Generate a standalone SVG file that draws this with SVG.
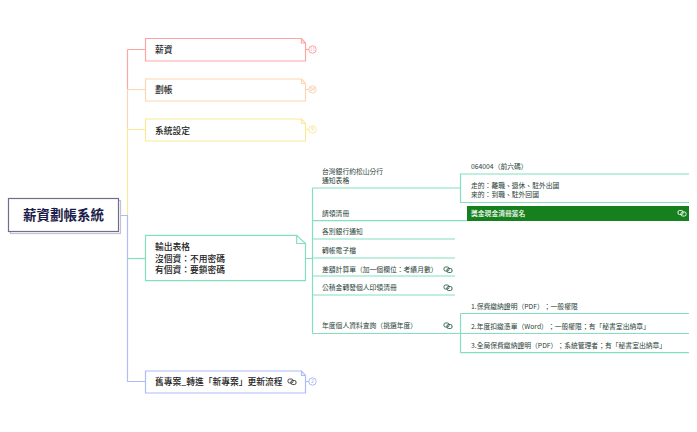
<svg xmlns="http://www.w3.org/2000/svg" width="697" height="432" viewBox="0 0 697 432">
<style>
text{font-family:"Noto Sans CJK TC","Noto Sans",sans-serif;fill:#222;text-spacing-trim:space-all}
.n{font-size:8.75px;font-weight:500}
.s{font-size:6.8px;fill:#2a3f38}
.c{fill:none;stroke-width:1.2}
.b{fill:#fff;stroke-width:1.2}
.g{stroke:#84dfc0}
.ic{fill:none;stroke-width:.9}
.cn{font-size:4.5px;text-anchor:middle}
</style>
<defs>
<g id="lnk" class="ic"><rect x="0" y="0" width="5" height="4" rx="1.5"/><rect x="3" y="1.500" width="5" height="4" rx="1.500"/></g>
</defs>
<rect width="697" height="432" fill="#fff"/>
<g id="connectors">
<path class="c" stroke="#fba5a5" d="M127.500 49.500V89.500M127.500 49.500H145.500"/>
<path class="c" stroke="#fbd5b4" d="M127.500 89.500V129.500M127.500 89.500H145.500"/>
<path class="c" stroke="#fbe99a" d="M127.500 129.500V215.500M127.500 129.500H145.500"/>
<path class="c" stroke="#aebcf8" d="M118.500 215.500H127.500V381.500H145.500"/>
<path class="c g" d="M127.500 258.500H145.500"/>
<path class="c g" d="M305.500 258.500H312.500M312.500 188V333.500M312.500 188H460.500M312.500 220.700H467M312.500 239H455M312.500 258H455M312.500 276H455M312.500 295H455M312.500 333.500H460.500"/>
<path class="c g" d="M689 174H460.500V202.500H689M460.500 313.500V352.700M689 313.500H460.500M689 333.500H460.500M689 352.700H460.500"/>
<path class="c" stroke="#fba5a5" d="M305.500 49.500H309"/>
<path class="c" stroke="#fbd5b4" d="M305.500 89.500H309"/>
<path class="c" stroke="#fbe99a" d="M305.500 129.500H309"/>
<path class="c" stroke="#aebcf8" d="M305.500 381.500H309"/>
</g>
<g id="root">
<rect x="10.500" y="200.500" width="110" height="33" fill="#fff" stroke="#c2c2d6" stroke-width="1.2"/>
<rect x="8.500" y="198.500" width="110" height="33" fill="#fff" stroke="#6f6f8c" stroke-width="1.2"/>
<text x="63.500" y="220" text-anchor="middle" font-size="13.500" font-weight="700" style="fill:#1c1c4a">薪資劃帳系統</text>
</g>
<g id="n1">
<path class="b" stroke="#fba5a5" d="M145.500 38.500H301.500L305.500 43V61H145.500Z M301.500 38.500V43H305.500"/>
<text class="n" x="155" y="53">薪資</text>
<circle cx="312.500" cy="49.500" r="3.700" fill="#fff" stroke="#fba5a5"/>
<text class="cn" x="312.500" y="51.200" style="fill:#f8a8a8">11</text>
</g>
<g id="n2">
<path class="b" stroke="#fbd5b4" d="M145.500 79H301.500L305.500 83.500V101H145.500Z M301.500 79V83.500H305.500"/>
<text class="n" x="155" y="93">劃帳</text>
<circle cx="312.500" cy="89.500" r="3.700" fill="#fff" stroke="#fbd5b4"/>
<text class="cn" x="312.500" y="91.200" style="fill:#f5b888">04</text>
</g>
<g id="n3">
<path class="b" stroke="#fbe99a" d="M145.500 119H301.500L305.500 123.500V141H145.500Z M301.500 119V123.500H305.500"/>
<text class="n" x="155" y="133.500">系統設定</text>
<circle cx="312.500" cy="129.500" r="3.700" fill="#fff" stroke="#fbe99a"/>
<text class="cn" x="312.500" y="131.200" style="fill:#e8d060">9</text>
</g>
<g id="n4">
<path class="b g" d="M145.500 235.300H296.700L305.500 243.500V280.700H145.500Z M296.700 235.300V243.500H305.500"/>
<text class="n" x="155" y="249.500">輸出表格</text>
<text class="n" x="155" y="261.500">沒個資：不用密碼</text>
<text class="n" x="155" y="273">有個資：要鎖密碼</text>
</g>
<g id="n5">
<path class="b" stroke="#aebcf8" d="M145.500 371H301.500L305.500 375.500V393H145.500Z M301.500 371V375.500H305.500"/>
<text class="n" x="155" y="385">舊專案_轉進「新專案」更新流程</text>
<use href="#lnk" x="288" y="379" stroke="#333"/>
<circle cx="312.500" cy="381.500" r="3.700" fill="#fff" stroke="#aebcf8"/>
<text class="cn" x="312.500" y="383.200" style="fill:#8fa4ee">2</text>
</g>
<g id="t1"><text class="s" x="322" y="174.200">台灣銀行約松山分行</text><text class="s" x="322" y="182.800">通知表格</text></g>
<g id="t2"><text class="s" x="322" y="215.500">請領清冊</text></g>
<g id="t3"><text class="s" x="322" y="234.200">各別銀行通知</text></g>
<g id="t4"><text class="s" x="322" y="252.800">轉帳電子檔</text></g>
<g id="t5"><text class="s" x="322" y="271.500">差額計算單（加一個欄位：考績月數）</text><use href="#lnk" x="444" y="267" stroke="#2a5a48"/></g>
<g id="t6"><text class="s" x="322" y="290.200">公積金轉發個人印領清冊</text><use href="#lnk" x="444" y="285" stroke="#2a5a48"/></g>
<g id="t7"><text class="s" x="322" y="328.200">年度個人資料查詢（挑選年度）</text><use href="#lnk" x="444" y="323" stroke="#2a5a48"/></g>
<g id="t8"><text class="s" x="471" y="168.500">064004（前六碼）</text></g>
<g id="t9"><text class="s" x="471" y="188.200">走的：離職、退休、駐外出國</text><text class="s" x="471" y="197.200">來的：到職、駐外回國</text></g>
<g id="t10"><rect x="467" y="206" width="222" height="15" fill="#16801e"/><text class="s" x="471" y="215.500" style="fill:#fff;font-weight:500">獎金現金清冊簽名</text><use href="#lnk" x="678" y="210.500" stroke="#fff"/></g>
<g id="t11"><text class="s" x="471" y="309.200">1.保費繳納證明（PDF）；一般權限</text></g>
<g id="t12"><text class="s" x="471" y="328.500">2.年度扣繳憑單（Word）；一般權限；有「秘書室出納章」</text></g>
<g id="t13"><text class="s" x="471" y="348.200">3.全局保費繳納證明（PDF）；系統管理者；有「秘書室出納章」</text></g>
</svg>
